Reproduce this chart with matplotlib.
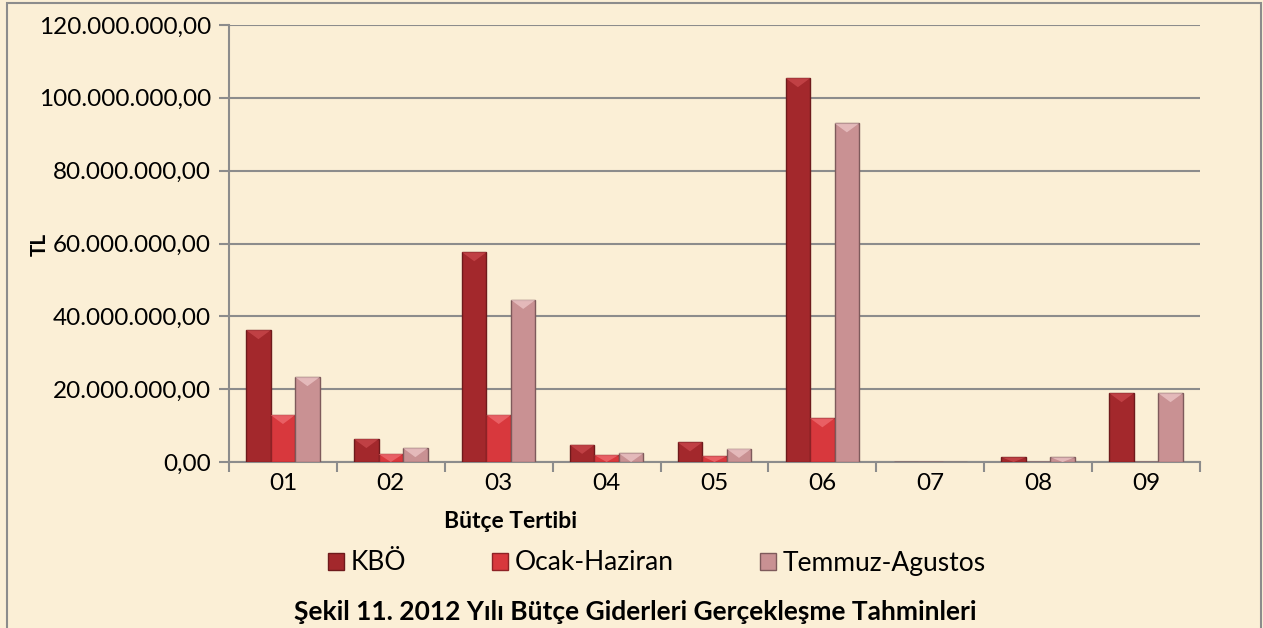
import numpy as np
import matplotlib
matplotlib.use("Agg")
import matplotlib.pyplot as plt
from matplotlib.patches import Patch, Rectangle, Polygon
from matplotlib.ticker import FuncFormatter

# veriler (grafikten okunan yaklasik degerler)
kategoriler = ["01", "02", "03", "04", "05", "06", "07", "08", "09"]
kbo = [36.2e6, 6.3e6, 57.6e6, 4.7e6, 5.4e6, 105.4e6, 0.0, 1.3e6, 18.9e6]
ocak_haziran = [12.9e6, 2.2e6, 12.9e6, 1.9e6, 1.6e6, 12.0e6, 0.0, 0.0, 0.0]
temmuz_agustos = [23.3e6, 3.8e6, 44.5e6, 2.4e6, 3.6e6, 93.0e6, 0.0, 1.3e6, 18.9e6]
seri_adlari = ["KBÖ", "Ocak-Haziran", "Temmuz-Agustos"]

plt.rcParams['font.family'] = ['Lato', 'DejaVu Sans']

arka = "#FBEFD6"
renkler = ["#A3282C", "#D8383D", "#C99193"]
kenarlar = ["#6E1A1C", "#8E2226", "#7E5A5B"]
parlak = ["#C8474B", "#EE6A6E", "#EBC4C5"]

fig = plt.figure(figsize=(12.63, 6.28), dpi=100, facecolor=arka)
ax = fig.add_axes([229/1263, 1 - 462/628, (1200-229)/1263, (462-25)/628])
ax.set_facecolor(arka)
ax.set_xlim(-0.5, len(kategoriler) - 0.5)
ax.set_ylim(0, 120e6)

x = np.arange(len(kategoriler))
w = 0.227
tepe = 120e6 / 437 * 9  # ust kisimdaki parlak ucgenin yuksekligi (~9 px)
for i, seri in enumerate([kbo, ocak_haziran, temmuz_agustos]):
    bars = ax.bar(x + (i - 1) * w, seri, width=w, color=renkler[i],
                  edgecolor=kenarlar[i], linewidth=1.0, zorder=3)
    for b in bars:
        h = b.get_height()
        if h <= 0:
            continue
        x0 = b.get_x()
        d = min(tepe, h)
        ax.add_patch(Polygon([(x0, h), (x0 + w, h), (x0 + w / 2, h - d)], closed=True,
                             facecolor=parlak[i], edgecolor="none", alpha=0.8, zorder=4))

ax.set_yticks(np.arange(0, 120e6 + 1, 20e6))
ax.yaxis.set_major_formatter(FuncFormatter(
    lambda v, p: "{:,.2f}".format(v).replace(",", "X").replace(".", ",").replace("X", ".")))
ax.grid(axis="y", color="#8C8C8C", linewidth=1.5, zorder=0)
ax.set_xticks(x)
ax.set_xticklabels(kategoriler)
ax.set_xticks(np.arange(-0.5, len(kategoriler)), minor=True)
ax.tick_params(axis="x", which="major", length=0, labelsize=17.5, pad=8)
ax.tick_params(axis="x", which="minor", length=7, color="#8C8C8C", width=1.5)
ax.tick_params(axis="y", length=7, color="#8C8C8C", width=1.5, labelsize=17.5, pad=6)
for s in ["top", "right"]:
    ax.spines[s].set_visible(False)
for s in ["left", "bottom"]:
    ax.spines[s].set_color("#8C8C8C")
    ax.spines[s].set_linewidth(1.5)

fig.text(40/1263, 1 - 244/628, "TL", rotation=90, fontsize=15, fontweight="bold",
         ha="center", va="center")
fig.text(511/1263, 1 - 522/628, "Bütçe Tertibi", fontsize=16.5, fontweight="bold",
         ha="center", va="center")
fig.text(635/1263, 1 - 612/628, "Şekil 11. 2012 Yılı Bütçe Giderleri Gerçekleşme Tahminleri",
         fontsize=19, fontweight="bold", ha="center", va="center")

tutamac = [Patch(facecolor=renkler[i], edgecolor=kenarlar[i]) for i in range(3)]
fig.legend(tutamac, seri_adlari, ncol=3, loc="center", bbox_to_anchor=(657/1263, 1 - 563/628),
           frameon=False, fontsize=19, handlelength=0.6, handleheight=0.6,
           handletextpad=0.27, columnspacing=3.25)

fig.patches.append(Rectangle((7/1263, -0.05), (1261-7)/1263, 1.05 - 3/628, transform=fig.transFigure,
                             fill=False, edgecolor="#8C8C8C", linewidth=1.5))

fig.savefig("out.png", dpi=100, facecolor=arka)
